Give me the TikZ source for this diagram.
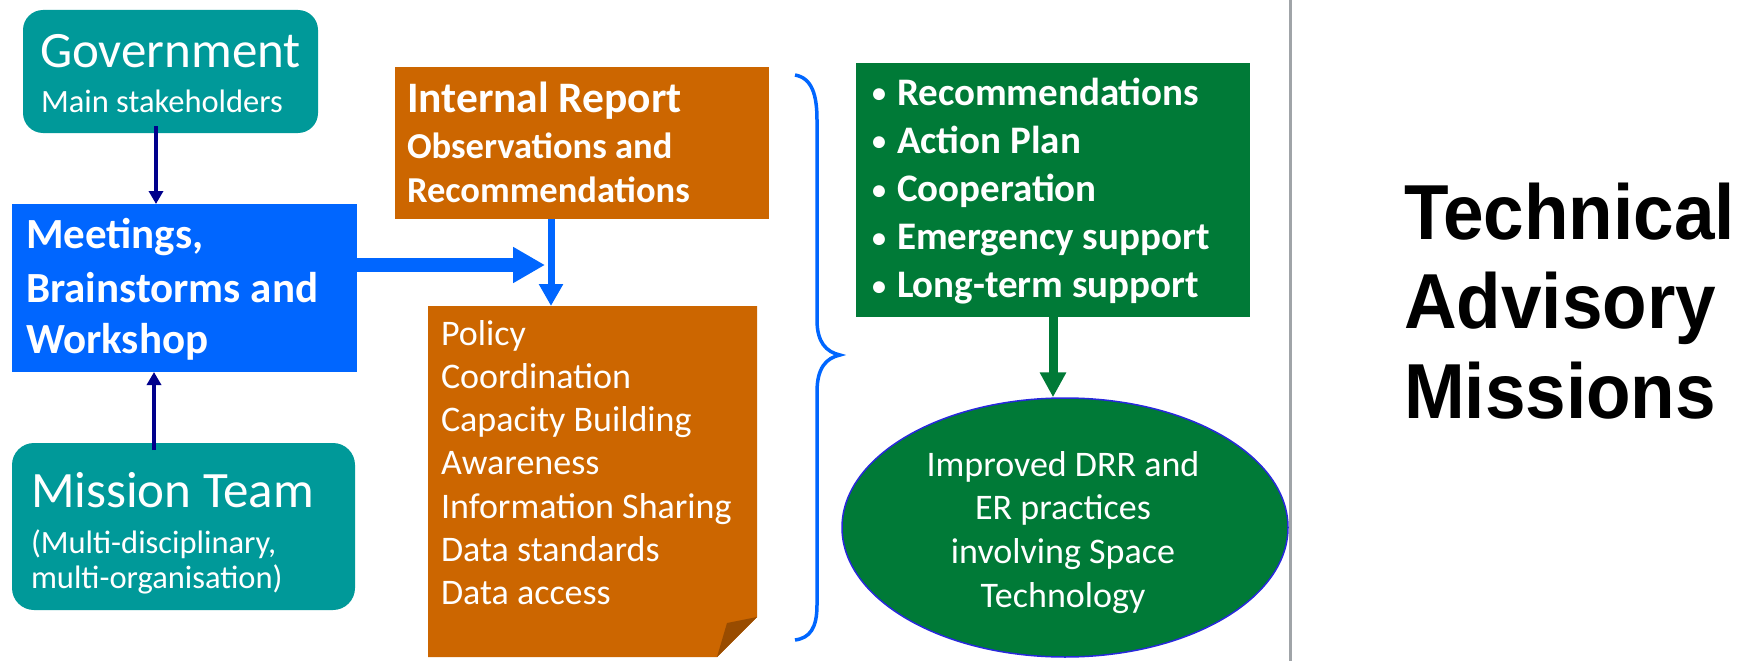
\documentclass[tikz,border=0pt]{standalone}
\usepackage{fontspec}
\usepackage{graphicx}
\setmainfont{Carlito}
\newfontfamily\tamfont{Liberation Sans}
\usetikzlibrary{shapes.geometric,arrows.meta}
\definecolor{teal1}{RGB}{0,153,153}
\definecolor{blue1}{RGB}{0,102,255}
\definecolor{navy1}{RGB}{0,0,140}
\definecolor{orange1}{RGB}{204,102,0}
\definecolor{fold1}{RGB}{153,76,0}
\definecolor{green1}{RGB}{0,122,55}
\definecolor{gray1}{RGB}{160,164,168}
\definecolor{ellb}{RGB}{40,40,220}
\tikzset{
  fbox/.style={rectangle, inner sep=0pt, outer sep=0pt, draw=none},
  lbl/.style={anchor=base west, inner sep=0pt, outer sep=0pt, text=white},
  clbl/.style={anchor=base, inner sep=0pt, outer sep=0pt, text=white},
  tam/.style={anchor=base west, inner sep=0pt, outer sep=0pt, text=black, font=\tamfont\fontsize{78}{88}\selectfont\bfseries},
  navyarrow/.style={draw=navy1, line width=4.5pt, -{Triangle[width=14pt,length=13pt]}},
  bigarrow/.style={draw=blue1, line width=14pt, -{Triangle[width=34pt,length=32pt]}},
  thinarrow/.style={draw=blue1, line width=7pt, -{Triangle[width=23pt,length=22pt]}},
  grnarrow/.style={draw=green1, line width=9pt, -{Triangle[width=25pt,length=25pt]}},
}
\newcommand\gbul{\makebox[25pt][l]{\fontsize{28}{28}\selectfont\raisebox{2pt}{•}}}
\newcommand\tamtxt[1]{\scalebox{0.935}[1]{#1}}
\begin{document}
\begin{tikzpicture}[x=1pt,y=-1pt]
\useasboundingbox (0,0) rectangle (1749,661);

% boxes
\node[fbox, fill=teal1, rounded corners=20pt, minimum width=295pt, minimum height=123pt] (gov) at (170.5,71.5) {};
\node[fbox, fill=blue1, minimum width=345pt, minimum height=168pt] (meet) at (184.5,288) {};
\node[fbox, fill=teal1, rounded corners=22pt, minimum width=343pt, minimum height=167pt] (team) at (183.5,526.5) {};
\node[fbox, fill=orange1, minimum width=374pt, minimum height=152pt] (report) at (582,143) {};
\node[fbox, minimum width=329pt, minimum height=351pt] (pol) at (592.5,481.5) {};
\fill[orange1] (pol.north west) -- (pol.north east) -- ([yshift=40pt]pol.south east) -- ([xshift=-40pt]pol.south east) -- (pol.south west) -- cycle;
\fill[fold1] ([yshift=40pt]pol.south east) -- ([xshift=-40pt]pol.south east) -- ([xshift=-30pt,yshift=34pt]pol.south east) -- cycle;
\node[fbox, fill=green1, minimum width=394pt, minimum height=254pt] (grn) at (1053,190) {};
\node[ellipse, fill=green1, draw=ellb, line width=1.5pt, inner sep=0pt, minimum width=446pt, minimum height=259pt] (ell) at (1065,527.5) {};

% texts
\node[lbl, font=\fontsize{51}{60}\selectfont] (govt) at (40,67) {Government};
\node[lbl, font=\fontsize{32.5}{38}\selectfont] (govs) at (41,112) {Main stakeholders};

\node[lbl, font=\fontsize{43}{50}\selectfont\bfseries] (m1) at (26,248) {Meetings,};
\node[lbl, font=\fontsize{43}{50}\selectfont\bfseries] (m2) at (26,302) {Brainstorms and};
\node[lbl, font=\fontsize{43}{50}\selectfont\bfseries] (m3) at (26,353) {Workshop};

\node[lbl, font=\fontsize{51}{60}\selectfont] (t1) at (31,507) {Mission Team};
\node[lbl, font=\fontsize{32.5}{38}\selectfont] (t2) at (31,553) {(Multi-disciplinary,};
\node[lbl, font=\fontsize{32.5}{38}\selectfont] (t3) at (31,588) {multi-organisation)};

\node[lbl, font=\fontsize{43.5}{50}\selectfont\bfseries] (r1) at (407,113) {Internal Report};
\node[lbl, font=\fontsize{36.5}{43}\selectfont\bfseries] (r2) at (407,158) {Observations and};
\node[lbl, font=\fontsize{36.5}{43}\selectfont\bfseries] (r3) at (407,202) {Recommendations};

\foreach \t [count=\i] in {Policy, Coordination, Capacity Building, Awareness, Information Sharing, Data standards, Data access}
  \node[lbl, font=\fontsize{36}{43}\selectfont] (p\i) at (441,{345+43.3*(\i-1)}) {\t};

\foreach \t [count=\i] in {Recommendations, Action Plan, Cooperation, Emergency support, Long-term support}
  \node[lbl, font=\fontsize{39}{47}\selectfont\bfseries] (g\i) at (872,{105+48*(\i-1)}) {\gbul\t};

\foreach \t [count=\i] in {Improved DRR and, ER practices, involving Space, Technology}
  \node[clbl, font=\fontsize{36}{43}\selectfont] (e\i) at (1063,{476+43.7*(\i-1)}) {\t};

\node[tam] (tam1) at (1404,239) {\tamtxt{Technical}};
\node[tam] (tam2) at (1404,328) {\tamtxt{Advisory}};
\node[tam] (tam3) at (1404,418) {\tamtxt{Missions}};

% connectors
\draw[navyarrow] ([xshift=-14.5pt,yshift=7pt]gov.south) -- ([xshift=-28.5pt]meet.north);
\draw[navyarrow] ([xshift=-29.5pt,yshift=-7pt]team.north) -- ([xshift=-30.5pt]meet.south);
\coordinate (join) at (551,265);
\draw[bigarrow] (meet.east |- join) -- ([xshift=-6pt]join);
\draw[thinarrow] (join |- report.south) -- (join |- pol.north);
\draw[grnarrow] (grn.south) -- (grn.south |- ell.north);

% brace
\coordinate (bt) at (795,75);
\coordinate (bm) at (840,355);
\coordinate (bb) at (795,640);
\draw[blue1, line width=3.5pt] (bt) .. controls (812,78) and (817,95) .. (817,120) -- (817,320) .. controls (817,342) and (826,352) .. (bm) .. controls (826,358) and (817,368) .. (817,392) -- (817,605) .. controls (817,628) and (810,638) .. (bb);

% separator
\coordinate (vt) at (1290,0);
\coordinate (vb) at (1290,661);
\draw[gray1, line width=3pt] (vt) -- (vb);
\end{tikzpicture}
\end{document}
